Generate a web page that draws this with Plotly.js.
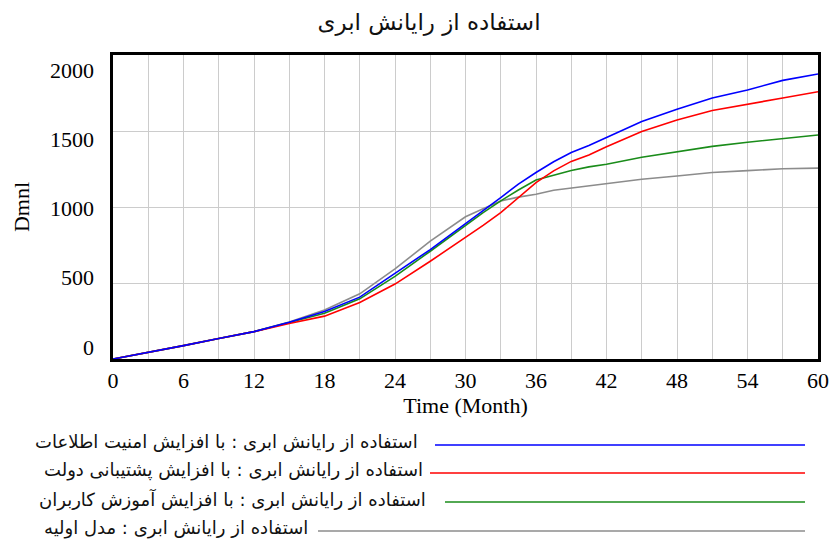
<!DOCTYPE html>
<html>
<head>
<meta charset="utf-8">
<script src="https://cdn.plot.ly/plotly-3.0.1.min.js"></script>
<style>
html,body{margin:0;padding:0;background:#fff;}
#chart{width:830px;height:540px;}
</style>
</head>
<body>
<div id="chart"></div>
<script>
// ---- data ----
const chartTitle = "استفاده از رایانش ابری";
const months = [0,3,6,9,12,15,18,21,24,27,30,31.5,33,34.5,36,37.5,39,40.5,42,45,48,51,54,57,60];
const securityIncrease = [0,42,88,135,180,242,312,407,561,720,890,974,1062,1150,1227,1298,1358,1404,1458,1563,1643,1717,1770,1833,1875];
const governmentSupport = [0,42,88,135,180,234,282,372,493,643,797,879,963,1065,1161,1238,1300,1342,1397,1496,1572,1635,1678,1717,1758];
const userTraining = [0,42,88,135,180,240,301,396,544,709,879,963,1040,1112,1177,1210,1240,1264,1281,1327,1364,1399,1426,1452,1474];
const baseModel = [0,42,88,135,180,244,323,429,593,775,936,989,1040,1065,1084,1110,1125,1139,1156,1183,1204,1227,1239,1252,1256];
const seriesNames = [
  "استفاده از رایانش ابری : با افزایش امنیت اطلاعات",
  "استفاده از رایانش ابری : با افزایش پشتیبانی دولت",
  "استفاده از رایانش ابری : با افزایش آموزش کاربران",
  "استفاده از رایانش ابری : مدل اولیه"
];
const xTicks = [0,6,12,18,24,30,36,42,48,54,60];
const yTicks = [0,500,1000,1500,2000];
const xTitle = "Time (Month)";
const yTitle = "Dmnl";

// ---- styling ----
const colors = ["#0000ff", "#ff0000", "#1a8c1a", "#8c8c8c"];
const seriesValues = [securityIncrease, governmentSupport, userTraining, baseModel];

const L = 113, R = 818, T = 55, B = 359, W = 830, H = 540;
const px2x = p => (p - L) / (R - L);
const py2y = p => (B - p) / (B - T);

const traces = seriesValues.map((vals, i) => ({
  x: months, y: vals, type: "scatter", mode: "lines",
  name: seriesNames[i], showlegend: false,
  line: {color: colors[i], width: 1.6},
  hoverinfo: "skip"
}));
traces.reverse();
traces.push({x: [], y: [], yaxis: "y2", type: "scatter", showlegend: false});

const legendPos = [
  {end: 420, line0: 435, y: 442},
  {end: 425, line0: 430, y: 470},
  {end: 428, line0: 445, y: 499},
  {end: 310, line0: 318, y: 528}
];

const shapes = [];
const annotations = [];
legendPos.forEach((g, i) => {
  shapes.push({type: "line", xref: "paper", yref: "paper",
    x0: px2x(g.line0), x1: px2x(805), y0: py2y(g.y + 3), y1: py2y(g.y + 3),
    line: {color: colors[i], width: 1.5}});
  annotations.push({xref: "paper", yref: "paper", x: px2x(g.end), y: py2y(g.y),
    xanchor: "right", yanchor: "middle", showarrow: false, text: seriesNames[i],
    font: {family: "DejaVu Sans, Noto Sans", size: 18, color: "#111"}});
});

const serif = "Liberation Serif, Times New Roman, serif";
const layout = {
  width: W, height: H,
  paper_bgcolor: "#fff", plot_bgcolor: "#fff",
  margin: {l: L, r: W - R, t: T, b: H - B, pad: 0},
  title: {text: chartTitle, xref: "paper", x: px2x(429), xanchor: "center",
    yref: "container", y: 1 - 22 / H, yanchor: "middle",
    font: {family: "DejaVu Sans, Noto Sans", size: 23, color: "#111"}},
  xaxis: {
    range: [0, 60], tickvals: xTicks, ticktext: xTicks.map(String),
    showgrid: true, gridcolor: "#cccccc", gridwidth: 1,
    minor: {dtick: 3, showgrid: true, gridcolor: "#cccccc", gridwidth: 1},
    showline: true, linecolor: "#000", linewidth: 3, mirror: true,
    ticks: "", zeroline: false,
    tickfont: {family: serif, size: 22, color: "#000"},
    title: {text: xTitle, standoff: 6,
      font: {family: serif, size: 22, color: "#000"}}
  },
  yaxis: {
    range: [0, 2000], tickvals: yTicks, showticklabels: false,
    showgrid: true, gridcolor: "#cccccc", gridwidth: 1,
    showline: true, linecolor: "#000", linewidth: 3, mirror: true,
    ticks: "", zeroline: false
  },
  yaxis2: {
    overlaying: "y", side: "left", range: [-86.6, 2108.4],
    tickvals: yTicks, ticktext: yTicks.map(String),
    showgrid: false, zeroline: false, showline: false, ticks: "",
    ticklabelstandoff: 18,
    tickfont: {family: serif, size: 22, color: "#000"},
    title: {text: yTitle, standoff: 14,
      font: {family: serif, size: 22, color: "#000"}}
  },
  shapes: shapes,
  annotations: annotations
};

Plotly.newPlot("chart", traces, layout, {staticPlot: true, displayModeBar: false});
</script>
</body>
</html>
